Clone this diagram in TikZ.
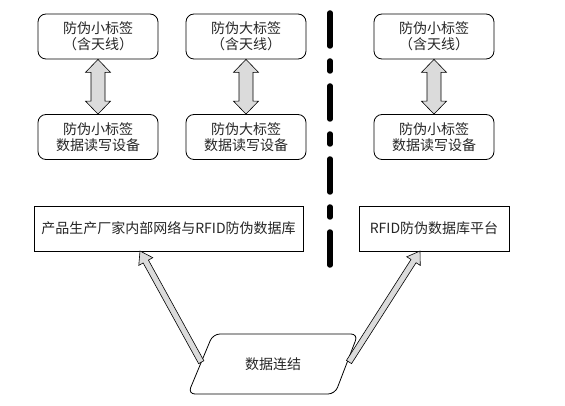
\documentclass[tikz,border=0pt]{standalone}
\usepackage{fontspec}
\setmainfont{Noto Sans CJK SC}
\usetikzlibrary{calc}
\newcommand\mydblarrow[2]{%
  \coordinate (da-a) at ($(#1)!13pt!(#2)$);
  \coordinate (da-b) at ($(#2)!13pt!(#1)$);
  \filldraw[fatarrow] (#1) -- ($(da-a)!12.5pt!90:(#2)$) -- ($(da-a)!7pt!90:(#2)$)
    -- ($(da-b)!7pt!-90:(#1)$) -- ($(da-b)!12.5pt!-90:(#1)$) -- (#2)
    -- ($(da-b)!12.5pt!90:(#1)$) -- ($(da-b)!7pt!90:(#1)$)
    -- ($(da-a)!7pt!-90:(#2)$) -- ($(da-a)!12.5pt!-90:(#2)$) -- cycle;
}
\newcommand\myfatarrow[2]{%
  \coordinate (fa-h) at ($(#2)!12pt!(#1)$);
  \filldraw[fatarrow] ($(#1)!3pt!90:(#2)$) -- ($(fa-h)!3pt!90:(#2)$)
    -- ($(fa-h)!8pt!90:(#2)$) -- (#2) -- ($(fa-h)!8pt!-90:(#2)$)
    -- ($(fa-h)!3pt!-90:(#2)$) -- ($(#1)!3pt!-90:(#2)$) -- cycle;
}
\tikzset{
  txt/.style={font=\fontsize{14}{16.5}\selectfont, text=black!85},
  tagbox/.style={txt, draw, rounded corners=8pt, minimum width=120pt,
    minimum height=45pt, align=center, line width=0.8pt, inner sep=0pt},
  dbbox/.style={txt, draw, minimum height=45pt, line width=0.8pt, inner sep=0pt},
  fatarrow/.style={draw, fill=gray!28, line width=0.6pt, line join=miter},
  divider/.style={line width=5.5pt, line cap=round,
    dash pattern=on 33pt off 15pt on 10pt off 15pt},
}
\begin{document}
\begin{tikzpicture}[x=1pt, y=-1pt]
\useasboundingbox[fill=white] (0,0) rectangle (565,406);
% top row
\node[tagbox] (t1) at (98,36.5) {防伪小标签\\（含天线）};
\node[tagbox] (t2) at (246,36.5) {防伪大标签\\（含天线）};
\node[tagbox] (t3) at (434,36.5) {防伪小标签\\（含天线）};
% second row
\node[tagbox] (r1) at (98,137) {防伪小标签\\数据读写设备};
\node[tagbox] (r2) at (246,137) {防伪大标签\\数据读写设备};
\node[tagbox] (r3) at (434,137) {防伪小标签\\数据读写设备};
% double arrows
\mydblarrow{t1.south}{r1.north}
\mydblarrow{t2.south}{r2.north}
\mydblarrow{t3.south}{r3.north}
% databases
\node[dbbox, minimum width=269pt] (lbox) at (168.5,228.5) {产品生产厂家内部网络与RFID防伪数据库};
\node[dbbox, minimum width=150pt] (rbox) at (434,228.5) {RFID防伪数据库平台};
% divider
\coordinate (dv1) at (330,13);
\coordinate (dv2) at (330,277);
\draw[divider] (dv1) -- (dv2);
% data link parallelogram
\coordinate (pTL) at (213,334);
\coordinate (pTR) at (358,334);
\coordinate (pBR) at (335,394);
\coordinate (pBL) at (188,394);
\draw[line width=0.8pt, rounded corners=7pt, fill=white] (pTL) -- (pTR) -- (pBR) -- (pBL) -- cycle;
\node[txt] (dl) at (273,364) {数据连结};
% arrows to databases
\coordinate (ls) at ($(pTL)!0.47!(pBL)$);
\coordinate (lt) at (140,251);
\coordinate (rs) at (349,362);
\coordinate (rt) at (420,251);
\myfatarrow{ls}{lt}
\myfatarrow{rs}{rt}
\end{tikzpicture}
\end{document}
